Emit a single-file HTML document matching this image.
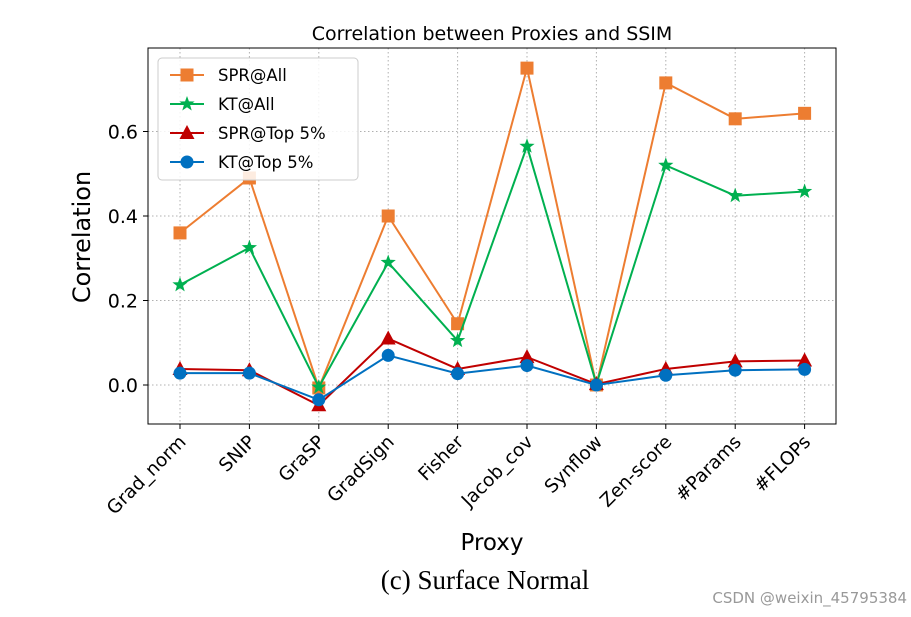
<!DOCTYPE html>
<html><head><meta charset="utf-8"><style>
body{margin:0;background:#fff;width:911px;height:612px;overflow:hidden}
svg text{font-family:"DejaVu Sans","Liberation Sans",sans-serif}
</style></head><body>
<svg id="chart" width="911" height="612" xmlns="http://www.w3.org/2000/svg"></svg>
<script>
const categories=["Grad_norm","SNIP","GraSP","GradSign","Fisher","Jacob_cov","Synflow","Zen-score","#Params","#FLOPs"];
const sprAll=[0.36,0.49,-0.007,0.40,0.145,0.75,0.0,0.715,0.63,0.643];
const ktAll=[0.237,0.325,-0.005,0.29,0.105,0.565,0.002,0.52,0.448,0.458];
const sprTop=[0.038,0.035,-0.048,0.11,0.038,0.066,0.002,0.038,0.056,0.058];
const ktTop=[0.028,0.028,-0.035,0.07,0.027,0.046,0.0,0.023,0.035,0.037];
const yTicks=[0.0,0.2,0.4,0.6];
const seriesNames=["SPR@All","KT@All","SPR@Top 5%","KT@Top 5%"];
const L=148,R=836,T=48,B=424,x0=180,dx=69.4,y0=385,ppu=422.5;
const X=i=>x0+i*dx, Y=v=>y0-v*ppu;
const svg=document.getElementById('chart');const NS="http://www.w3.org/2000/svg";
function el(t,a,p){const e=document.createElementNS(NS,t);for(const k in a)e.setAttribute(k,a[k]);(p||svg).appendChild(e);return e;}
yTicks.forEach(v=>{const g=el('line',{x1:L,x2:R,y1:Y(v),y2:Y(v),stroke:'#b0b0b0','stroke-dasharray':'1.5,2.5','stroke-width':1});

const t=el('text',{x:L-10,y:Y(v)+7,'text-anchor':'end','font-size':19});t.textContent=v.toFixed(1);

el('line',{x1:L-5,x2:L,y1:Y(v),y2:Y(v),stroke:'#000'});});
categories.forEach((c,i)=>{const g=el('line',{x1:X(i),x2:X(i),y1:T,y2:B,stroke:'#b0b0b0','stroke-dasharray':'1.5,2.5','stroke-width':1});

el('line',{x1:X(i),x2:X(i),y1:B,y2:B+5,stroke:'#000'});
const t=el('text',{x:X(i)+7,y:B+19,'text-anchor':'end','font-size':18.5,transform:`rotate(-45 ${X(i)+7} ${B+19})`});t.textContent=c;
});
const fr=el('rect',{x:L,y:T,width:R-L,height:B-T,fill:'none',stroke:'#000','stroke-width':1});

function marker(g,type,x,y,col){
 if(type==='s')el('rect',{x:x-6.5,y:y-6.5,width:13,height:13,fill:col},g);
 else if(type==='o')el('circle',{cx:x,cy:y,r:6.5,fill:col},g);
 else if(type==='^')el('polygon',{points:`${x},${y-8} ${x-7.5},${y+6} ${x+7.5},${y+6}`,fill:col},g);
 else{let p=[];for(let k=0;k<10;k++){const r=k%2?3.3:8,a=-Math.PI/2+k*Math.PI/5;p.push((x+r*Math.cos(a))+','+(y+r*Math.sin(a)));}el('polygon',{points:p.join(' '),fill:col},g);}
}
const series=[[sprAll,'#ED7D31','s'],[ktAll,'#00B050','*'],[sprTop,'#C00000','^'],[ktTop,'#0070C0','o']];
const snames=['series-spr-all','series-kt-all','series-spr-top5','series-kt-top5'];
series.forEach(([d,col,m],si)=>{const g=el('g',{});

el('polyline',{points:d.map((v,i)=>X(i)+','+Y(v)).join(' '),fill:'none',stroke:col,'stroke-width':2},g);
d.forEach((v,i)=>marker(g,m,X(i),Y(v),col));});
const lg=el('g',{});
el('rect',{x:158,y:58,width:200,height:122,rx:4,fill:'#fff','fill-opacity':0.85,stroke:'#ccc'},lg);
series.forEach(([d,col,m],si)=>{const y=75+si*29;const e=el('g',{},lg);

el('line',{x1:170,x2:204,y1:y,y2:y,stroke:col,'stroke-width':2},e);marker(e,m,187,y,col);
const t=el('text',{x:218,y:y+6,'font-size':16.5},e);t.textContent=seriesNames[si];});
function txt(s,a,name){const t=el('text',a);t.textContent=s;return t;}
txt('Correlation between Proxies and SSIM',{x:492,y:40,'text-anchor':'middle','font-size':19},'chart-title');
txt('Correlation',{x:90,y:237,'text-anchor':'middle','font-size':24,transform:'rotate(-90 90 237)'},'y-axis-title');
txt('Proxy',{x:492,y:550,'text-anchor':'middle','font-size':23},'x-axis-title');
const c=txt('(c) Surface Normal',{x:485,y:589,'text-anchor':'middle','font-size':27},'caption');c.setAttribute('style','font-family:"Liberation Serif",serif');
txt('CSDN @weixin_45795384',{x:907,y:603,'text-anchor':'end','font-size':15,fill:'#999'},'watermark');
</script>
</body></html>
